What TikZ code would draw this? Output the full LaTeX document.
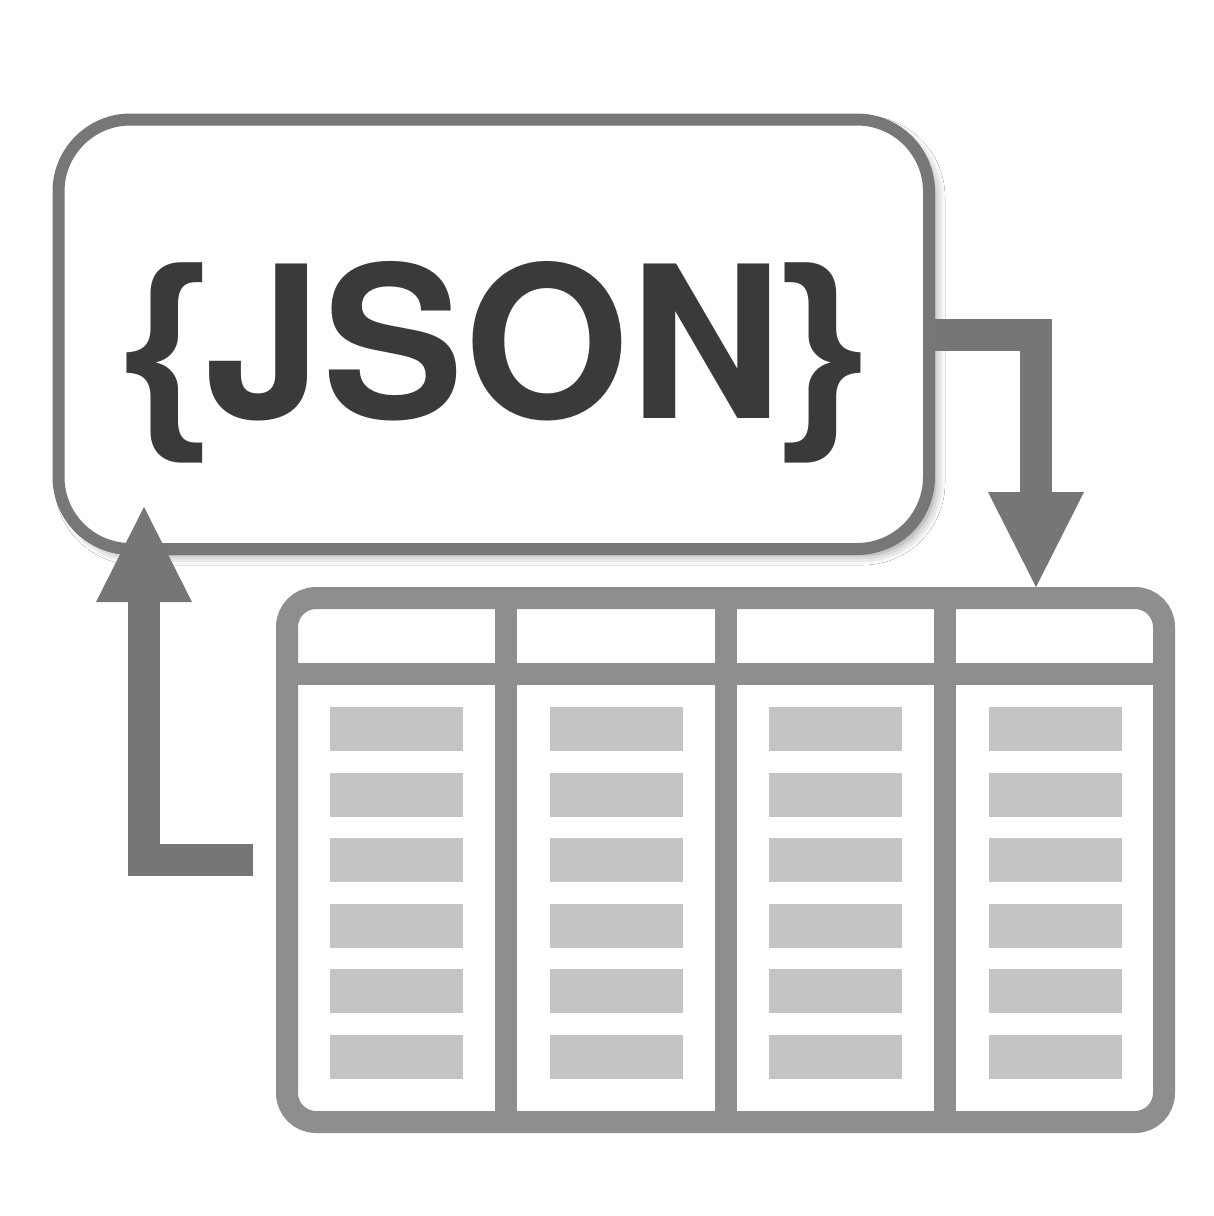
\documentclass[tikz,border=0pt]{standalone}
\usepackage{fontspec}
\setmainfont{TeX Gyre Heros}
\newfontfamily\bracefont{Liberation Sans}
\usetikzlibrary{arrows.meta,shadows.blur}
\definecolor{boxgray}{HTML}{777777}
\definecolor{arrowgray}{HTML}{767676}
\definecolor{tablegray}{HTML}{8E8E8E}
\definecolor{cellgray}{HTML}{C4C4C4}
\definecolor{textgray}{HTML}{3A3A3A}
\newcommand{\lbr}{{\bracefont\bfseries\{}}
\newcommand{\rbr}{{\bracefont\bfseries\}}}
\tikzset{
  jsonbox/.style={draw=boxgray, line width=12pt, fill=white, rounded corners=72pt,
    minimum width=870.5pt, minimum height=429.5pt, inner sep=0pt,
    blur shadow={shadow xshift=6pt, shadow yshift=-6pt, shadow blur radius=10pt, shadow opacity=45}},
  tablebox/.style={draw=tablegray, line width=22pt, fill=white, rounded corners=29pt,
    minimum width=877pt, minimum height=524pt, inner sep=0pt},
  tabline/.style={draw=tablegray, line width=22pt},
  cellbar/.style={fill=cellgray},
  bigarrow/.style={draw=arrowgray, line width=32pt, line join=miter,
    -{Triangle[width=96pt,length=95pt,line width=0pt]}, color=arrowgray},
  jsonlabel/.style={text=textgray, font=\bfseries\fontsize{212}{212}\selectfont,
    anchor=base, inner sep=0pt}
}
\begin{document}
\begin{tikzpicture}[x=1pt,y=-1pt]
\useasboundingbox (0,0) rectangle (1214,1216);
\fill[white] (0,0) rectangle (1214,1216);
% JSON box
\node[jsonbox] (json) at (493.75,334.25) {};
\node[jsonlabel] (jsontext) at (493.5,418)
  {\kern2pt{\fontsize{215}{215}\selectfont\lbr}\kern-2pt JSON\kern-2pt{\fontsize{215}{215}\selectfont\rbr}\kern2pt};
% table
\node[tablebox] (table) at (725.5,860) {};
\draw[tabline] (287,674) -- (1164,674);
\foreach \x in {506,725.5,945} {
  \draw[tabline] (\x,598) -- (\x,1122);
}
\foreach \x in {330,549.5,769,988.5} {
  \foreach \y in {707,772.6,838.2,903.8,969.4,1035} {
    \fill[cellbar] (\x,\y) rectangle ++(133,44);
  }
}
% arrows
\coordinate (dtip) at (1036,587);
\coordinate (ufoot) at (253,860);
\coordinate (utip) at (144,507);
\draw[bigarrow] (json.east |- 0,335) -| (dtip);
\draw[bigarrow] (ufoot) -| (utip);
\end{tikzpicture}
\end{document}
